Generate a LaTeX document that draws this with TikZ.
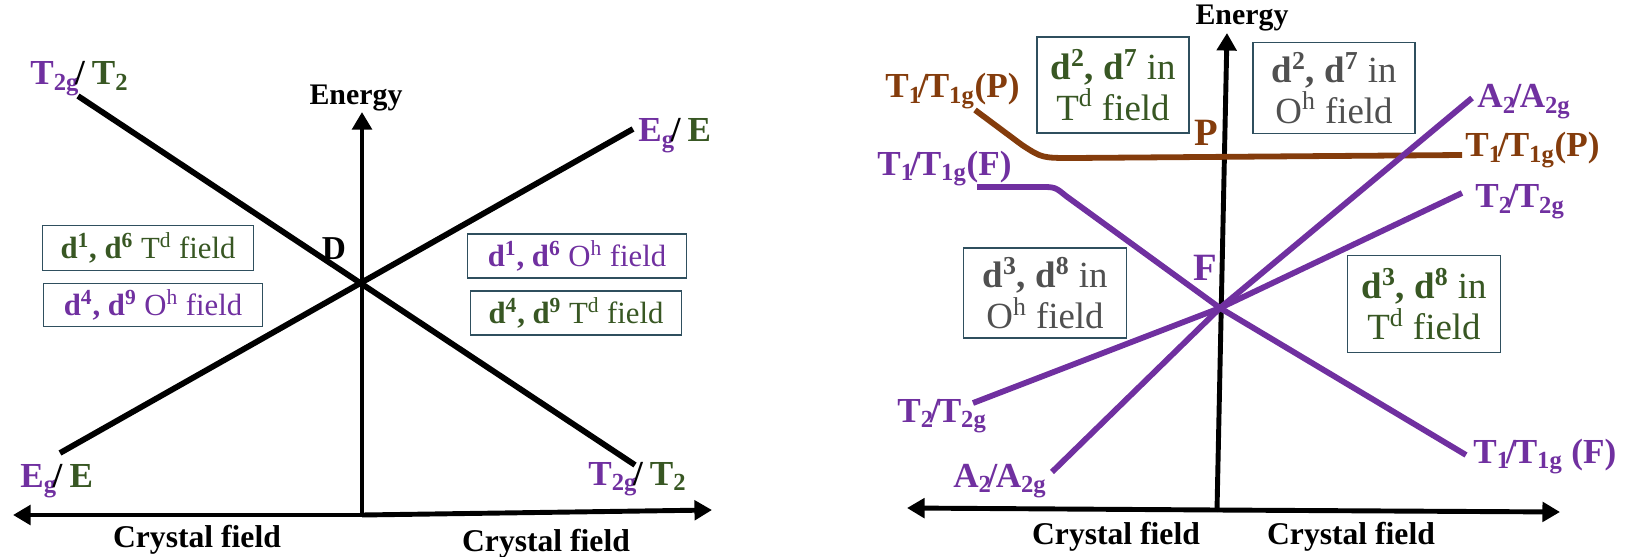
\documentclass[tikz,border=0pt]{standalone}
\usepackage{fontspec}
\setmainfont{Liberation Serif}
\usetikzlibrary{arrows.meta, positioning}

\definecolor{tbpurple}{RGB}{112,48,160}
\definecolor{tbgreen}{RGB}{56,87,35}
\definecolor{tbbrown}{RGB}{132,60,12}
\definecolor{tbgray}{RGB}{80,80,80}
\definecolor{boxline}{RGB}{47,79,94}

\newcommand{\lsub}[1]{\textsubscript{#1}}
\newcommand{\lsup}[1]{\textsuperscript{#1}}
\newcommand{\slsh}{\kern-0.12em/\kern-0.05em}

\begin{document}
\begin{tikzpicture}[x=0.02cm, y=-0.02cm,
    level/.style={line width=3.3pt},
    axis/.style={line width=2.8pt, -{Triangle[length=10pt, width=11pt]}},
    fieldbox/.style={draw=boxline, line width=0.8pt, fill=white, align=center, inner sep=2pt},
    lbl/.style={font=\fontsize{20}{22}\selectfont\bfseries, anchor=base west, inner sep=0pt},
    biglbl/.style={font=\fontsize{20}{22}\selectfont\bfseries, anchor=base west, inner sep=0pt},
    axlbl/.style={font=\fontsize{18}{20}\selectfont\bfseries},
    smalltxt/.style={font=\fontsize{17.5}{20}\selectfont},
    bigtxt/.style={font=\fontsize{21}{23}\selectfont}
]
\useasboundingbox (0,0) rectangle (1631,557);

% ---- left diagram (D term)
\coordinate (o1) at (362,285);
\coordinate (b1) at (362,515);
\coordinate (e1) at (362,112);
\coordinate (xl1) at (13,515);
\coordinate (xr1) at (712,510);
\coordinate (t2gA) at (78,96);
\coordinate (t2gB) at (635,465);
\coordinate (egA) at (60,453);
\coordinate (egB) at (633,129);

\draw[axis] (b1) -- (e1);
\draw[axis] (b1) -- (xl1);
\draw[axis] (b1) -- (xr1);
\draw[level] (t2gA) -- (t2gB);
\draw[level] (egA) -- (egB);

\node[axlbl, font=\fontsize{17}{19}\selectfont\bfseries] (en1) at (356,98) {Energy};
\node[font=\fontsize{19}{21}\selectfont\bfseries] (dterm) at (334,249) {D};
\node[axlbl] (cfl1) at (197,540) {Crystal field};
\node[axlbl] (cfr1) at (546,544) {Crystal field};

\node[lbl] (lt2g) at (30,85) {\textcolor{tbpurple}{T\lsub{2g}}\slsh\ \textcolor{tbgreen}{T\lsub{2}}};
\node[lbl] (reg) at (638,142) {\textcolor{tbpurple}{E\lsub{g}}\slsh\ \textcolor{tbgreen}{E}};
\node[lbl] (leg) at (20,487) {\textcolor{tbpurple}{E\lsub{g}}\slsh\ \textcolor{tbgreen}{E}};
\node[lbl] (rt2g) at (588,485) {\textcolor{tbpurple}{T\lsub{2g}}\slsh\ \textcolor{tbgreen}{T\lsub{2}}};

\node[fieldbox, smalltxt, text=tbgreen, minimum width=4.22cm, minimum height=0.9cm] (bx1) at (148,248) {\textbf{d\lsup{1}, d\lsup{6}} T\lsup{d} field};
\node[fieldbox, smalltxt, text=tbpurple, minimum width=4.38cm, minimum height=0.86cm] (bx2) at (153,305) {\textbf{d\lsup{4}, d\lsup{9}} O\lsup{h} field};
\node[fieldbox, smalltxt, text=tbpurple, minimum width=4.38cm, minimum height=0.88cm] (bx3) at (577,256) {\textbf{d\lsup{1}, d\lsup{6}} O\lsup{h} field};
\node[fieldbox, smalltxt, text=tbgreen, minimum width=4.22cm, minimum height=0.88cm] (bx4) at (576,313) {\textbf{d\lsup{4}, d\lsup{9}} T\lsup{d} field};

% ---- right diagram (F and P terms)
\coordinate (o2) at (1220,308);
\coordinate (b2) at (1217,510);
\coordinate (e2) at (1227,33);
\coordinate (xl2) at (907,508);
\coordinate (xr2) at (1560,512);
\coordinate (pA) at (975,110);
\coordinate (pB) at (1462,155);
\coordinate (fA) at (977,187);
\coordinate (fB) at (1466,455);
\coordinate (a2A) at (1052,472);
\coordinate (a2B) at (1472,98);
\coordinate (t2A) at (973,403);
\coordinate (t2B) at (1462,193);

\draw[axis] (b2) -- (e2);
\draw[axis] (b2) -- (xl2);
\draw[axis] (b2) -- (xr2);
\draw[level, tbbrown] (pA) -- (1022,145) .. controls (1042,158) .. (1073,158) -- (pB);
\draw[level, tbpurple] (fA) -- (1040,187) .. controls (1055,187) .. (1066,196) -- (o2) -- (fB);
\draw[level, tbpurple] (a2A) -- (o2) -- (a2B);
\draw[level, tbpurple] (t2A) -- (o2) -- (t2B);

\node[axlbl, font=\fontsize{17}{19}\selectfont\bfseries] (en2) at (1242,18) {Energy};
\node[axlbl] (cfl2) at (1116,537) {Crystal field};
\node[axlbl] (cfr2) at (1351,537) {Crystal field};
\node[font=\fontsize{22}{24}\selectfont\bfseries, text=tbbrown] (pterm) at (1206,133) {P};
\node[font=\fontsize{22}{24}\selectfont\bfseries, text=tbpurple] (fterm) at (1205,268) {F};

\node[biglbl, text=tbbrown] (lt1p) at (885,98) {T\lsub{1}\slsh T\lsub{1g}(P)};
\node[biglbl, text=tbbrown] (rt1p) at (1465,157) {T\lsub{1}\slsh T\lsub{1g}(P)};
\node[biglbl, text=tbpurple] (lt1f) at (877,175) {T\lsub{1}\slsh T\lsub{1g}(F)};
\node[biglbl, text=tbpurple] (rt1f) at (1473,463) {T\lsub{1}\slsh T\lsub{1g} (F)};
\node[biglbl, text=tbpurple] (ra2) at (1477,108) {A\lsub{2}\slsh A\lsub{2g}};
\node[biglbl, text=tbpurple] (la2) at (953,487) {A\lsub{2}\slsh A\lsub{2g}};
\node[biglbl, text=tbpurple] (rt2) at (1475,208) {T\lsub{2}\slsh T\lsub{2g}};
\node[biglbl, text=tbpurple] (lt2) at (897,422) {T\lsub{2}\slsh T\lsub{2g}};

\node[fieldbox, bigtxt, text=tbgreen, minimum width=3.04cm, minimum height=1.92cm] (bx5) at (1113,85) {\textbf{d\lsup{2}, d\lsup{7}} in\\T\lsup{d} field};
\node[fieldbox, bigtxt, text=tbgray, minimum width=3.24cm, minimum height=1.82cm] (bx6) at (1334,88) {\textbf{d\lsup{2}, d\lsup{7}} in\\O\lsup{h} field};
\node[fieldbox, bigtxt, text=tbgray, minimum width=3.26cm, minimum height=1.8cm] (bx7) at (1045,293) {\textbf{d\lsup{3}, d\lsup{8}} in\\O\lsup{h} field};
\node[fieldbox, bigtxt, text=tbgreen, minimum width=3.06cm, minimum height=1.94cm] (bx8) at (1424,304) {\textbf{d\lsup{3}, d\lsup{8}} in\\T\lsup{d} field};
\end{tikzpicture}
\end{document}
